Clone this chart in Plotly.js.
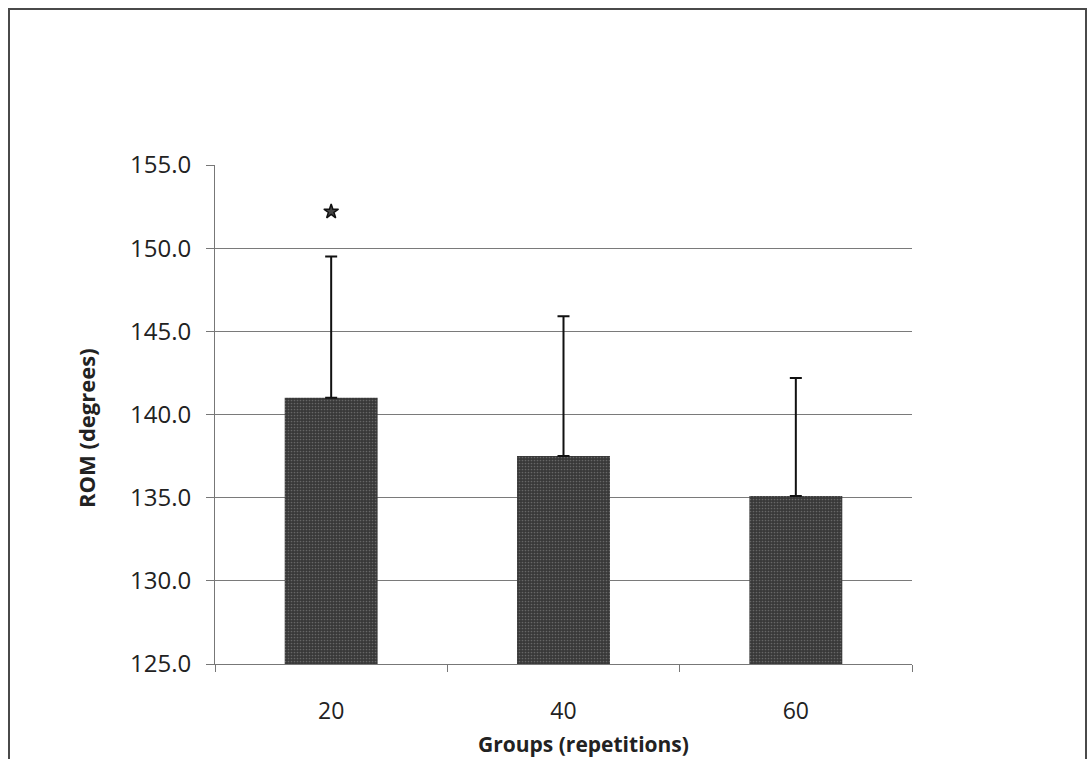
<!DOCTYPE html>
<html>
<head>
<meta charset="utf-8">
<script src="https://cdn.plot.ly/plotly-3.0.1.min.js"></script>
<style>
  html, body { margin: 0; padding: 0; background: #fff; }
  #wrap { position: relative; width: 1091px; height: 759px; }
  #chart { width: 1091px; height: 759px; }
  #frame { position: absolute; left: 8px; top: 8px; width: 1079px; height: 751px;
           border: 2px solid #4a4a4a; border-bottom: none; box-sizing: border-box; pointer-events: none; }
</style>
</head>
<body>
<div id="wrap">
  <div id="chart"></div>
  <div id="frame"></div>
</div>
<script>
// Range of motion by training group
const groups = ['20', '40', '60'];
const romMean = [141.0, 137.5, 135.1];
const romSD = [8.5, 8.4, 7.1];
const sigGroups = ['20'];
const sigLevel = [152.2];
const yTickVals = [125, 130, 135, 140, 145, 150, 155];
const yTickText = ['125.0', '130.0', '135.0', '140.0', '145.0', '150.0', '155.0'];
const xTitle = 'Groups (repetitions)';
const yTitle = 'ROM (degrees)';

const bars = {
  type: 'bar',
  x: groups,
  y: romMean,
  width: 0.4,
  marker: {
    color: '#3e3e3e',
    line: { width: 0 },
    pattern: { shape: '.', fgcolor: '#666', bgcolor: '#383838', size: 3, solidity: 0.25 }
  },
  error_y: {
    type: 'data',
    symmetric: false,
    array: romSD,
    arrayminus: [0, 0, 0],
    color: '#111',
    thickness: 2,
    width: 6
  },
  hoverinfo: 'skip'
};

const star = {
  type: 'scatter',
  mode: 'markers',
  x: sigGroups,
  y: sigLevel,
  marker: { symbol: 'star', size: 11, color: '#444', line: { color: '#111', width: 1.5 } },
  hoverinfo: 'skip'
};

const fontFam = '"Open Sans", "Noto Sans", sans-serif';
const plotL = 215, plotR = 912, plotT = 165, plotB = 664;
const plotW = plotR - plotL, plotH = plotB - plotT;

const layout = {
  width: 1091,
  height: 759,
  margin: { l: plotL, r: 1091 - plotR, t: plotT, b: 759 - plotB },
  paper_bgcolor: '#fff',
  plot_bgcolor: '#fff',
  showlegend: false,
  font: { family: fontFam, color: '#222' },
  xaxis: {
    type: 'category',
    tickvals: groups,
    ticktext: groups,
    tickson: 'boundaries',
    ticks: 'outside',
    ticklen: 7,
    tickcolor: '#777',
    tickwidth: 1,
    ticklabelstandoff: 26,
    showline: true,
    linecolor: '#777',
    linewidth: 1,
    showgrid: false,
    tickfont: { size: 23, family: fontFam, color: '#222' },
    fixedrange: true
  },
  yaxis: {
    range: [125, 155],
    tickvals: yTickVals,
    ticktext: yTickText,
    ticks: 'outside',
    ticklen: 8,
    tickcolor: '#777',
    tickwidth: 1,
    ticklabelstandoff: 10,
    showline: true,
    linecolor: '#777',
    linewidth: 1,
    showgrid: true,
    gridcolor: '#7a7a7a',
    gridwidth: 1,
    zeroline: false,
    tickfont: { size: 24, family: fontFam, color: '#222' },
    fixedrange: true
  },
  annotations: [
    {
      text: '<b>' + xTitle + '</b>',
      xref: 'paper', yref: 'paper',
      x: (583 - plotL) / plotW, y: (plotB - 744) / plotH,
      xanchor: 'center', yanchor: 'middle',
      showarrow: false,
      font: { size: 21, family: fontFam, color: '#222' }
    },
    {
      text: '<b>' + yTitle + '</b>',
      xref: 'paper', yref: 'paper',
      x: (86 - plotL) / plotW, y: (plotB - 428) / plotH,
      xanchor: 'center', yanchor: 'middle',
      textangle: -90,
      showarrow: false,
      font: { size: 22, family: fontFam, color: '#222' }
    }
  ]
};

Plotly.newPlot('chart', [bars, star], layout, { staticPlot: true });
</script>
</body>
</html>
